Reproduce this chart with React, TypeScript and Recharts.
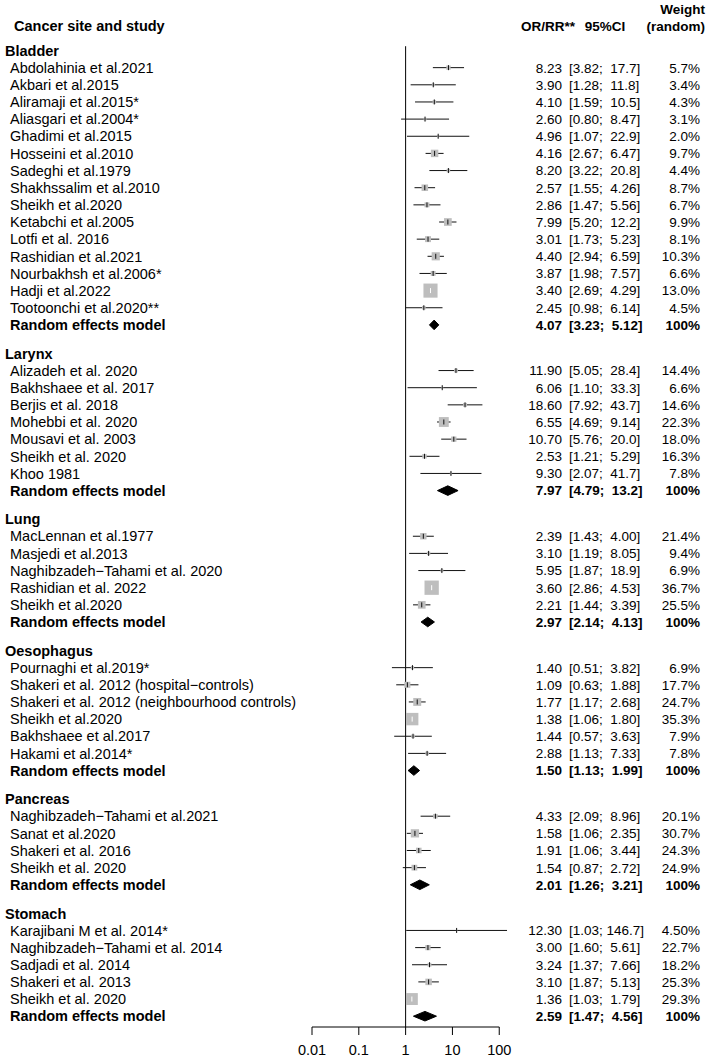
import React from 'react';
import { ComposedChart, Scatter, Area, XAxis, YAxis, ErrorBar, ReferenceLine } from 'recharts';

const FONT = '"Liberation Sans", Arial, Helvetica, sans-serif';
const FS = 14.5;
const FS_R = 13.5;

// ---------------- data ----------------
const columnHeaders = ['Cancer site and study', 'OR/RR**', '95%CI', 'Weight', '(random)'];
const groupNames = ['Bladder', 'Larynx', 'Lung', 'Oesophagus', 'Pancreas', 'Stomach'];
const groupSizes = [15, 7, 5, 6, 4, 5];

const studyNames = [
  'Abdolahinia et al.2021', 'Akbari et al.2015', 'Aliramaji et al.2015*', 'Aliasgari et al.2004*',
  'Ghadimi et al.2015', 'Hosseini et al.2010', 'Sadeghi et al.1979', 'Shakhssalim et al.2010',
  'Sheikh et al.2020', 'Ketabchi et al.2005', 'Lotfi et al. 2016', 'Rashidian et al.2021',
  'Nourbakhsh et al.2006*', 'Hadji et al.2022', 'Tootoonchi et al.2020**',
  'Alizadeh et al. 2020', 'Bakhshaee et al. 2017', 'Berjis et al. 2018', 'Mohebbi et al. 2020',
  'Mousavi et al. 2003', 'Sheikh et al. 2020', 'Khoo 1981',
  'MacLennan et al.1977', 'Masjedi et al.2013', 'Naghibzadeh\u2212Tahami et al. 2020',
  'Rashidian et al. 2022', 'Sheikh et al.2020',
  'Pournaghi et al.2019*', 'Shakeri et al. 2012 (hospital\u2212controls)',
  'Shakeri et al. 2012 (neighbourhood controls)', 'Sheikh et al.2020', 'Bakhshaee et al.2017',
  'Hakami et al.2014*',
  'Naghibzadeh\u2212Tahami et al.2021', 'Sanat et al.2020', 'Shakeri et al. 2016', 'Sheikh et al. 2020',
  'Karajibani M et al. 2014*', 'Naghibzadeh\u2212Tahami et al. 2014', 'Sadjadi et al. 2014',
  'Shakeri et al. 2013', 'Sheikh et al. 2020',
];
const studyOR = [
  '8.23', '3.90', '4.10', '2.60', '4.96', '4.16', '8.20', '2.57', '2.86', '7.99', '3.01', '4.40', '3.87', '3.40', '2.45',
  '11.90', '6.06', '18.60', '6.55', '10.70', '2.53', '9.30',
  '2.39', '3.10', '5.95', '3.60', '2.21',
  '1.40', '1.09', '1.77', '1.38', '1.44', '2.88',
  '4.33', '1.58', '1.91', '1.54',
  '12.30', '3.00', '3.24', '3.10', '1.36',
];
const studyLower = [
  '3.82', '1.28', '1.59', '0.80', '1.07', '2.67', '3.22', '1.55', '1.47', '5.20', '1.73', '2.94', '1.98', '2.69', '0.98',
  '5.05', '1.10', '7.92', '4.69', '5.76', '1.21', '2.07',
  '1.43', '1.19', '1.87', '2.86', '1.44',
  '0.51', '0.63', '1.17', '1.06', '0.57', '1.13',
  '2.09', '1.06', '1.06', '0.87',
  '1.03', '1.60', '1.37', '1.87', '1.03',
];
const studyUpper = [
  '17.7', '11.8', '10.5', '8.47', '22.9', '6.47', '20.8', '4.26', '5.56', '12.2', '5.23', '6.59', '7.57', '4.29', '6.14',
  '28.4', '33.3', '43.7', '9.14', '20.0', '5.29', '41.7',
  '4.00', '8.05', '18.9', '4.53', '3.39',
  '3.82', '1.88', '2.68', '1.80', '3.63', '7.33',
  '8.96', '2.35', '3.44', '2.72',
  '146.7', '5.61', '7.66', '5.13', '1.79',
];
const studyWeight = [
  '5.7%', '3.4%', '4.3%', '3.1%', '2.0%', '9.7%', '4.4%', '8.7%', '6.7%', '9.9%', '8.1%', '10.3%', '6.6%', '13.0%', '4.5%',
  '14.4%', '6.6%', '14.6%', '22.3%', '18.0%', '16.3%', '7.8%',
  '21.4%', '9.4%', '6.9%', '36.7%', '25.5%',
  '6.9%', '17.7%', '24.7%', '35.3%', '7.9%', '7.8%',
  '20.1%', '30.7%', '24.3%', '24.9%',
  '4.50%', '22.7%', '18.2%', '25.3%', '29.3%',
];
const pooledLabel = 'Random effects model';
const pooledOR = ['4.07', '7.97', '2.97', '1.50', '2.01', '2.59'];
const pooledLower = ['3.23', '4.79', '2.14', '1.13', '1.26', '1.47'];
const pooledUpper = ['5.12', '13.2', '4.13', '1.99', '3.21', '4.56'];
const pooledWeight = '100%';
const xTickLabels = ['0.01', '0.1', '1', '10', '100'];

// ---------------- layout ----------------
const HEADER_GAP = 1.662;
const P_TOP = -2.945;
const P_BOTTOM = 56.94;
const COLHEAD_P = -1.429;
const VLINE_TOP_P = -0.25;
const DIAMOND_HALF = 0.28;
const BOX_SCALE = 6.58;
const INSIDE_LIMIT = 0.569;
const X_MIN = -2;
const X_MAX = 2.2;
const PLOT_LEFT = 312;
const PLOT_RIGHT = 508.6;

const NAME_X = 10;
const GROUP_X = 5;
const COLHEAD_X = 14;
const OR_RIGHT = 562;
const CI_LEFT = 569;
const W_RIGHT = 700;

type Line = {
  kind: 'colhead' | 'group' | 'study' | 'pooled';
  p: number;
  label: string;
  or?: string;
  lo?: string;
  hi?: string;
  w?: string;
};

const lines: Line[] = [];
const studyPoints: any[] = [];
const diamonds: any[][] = [];

lines.push({ kind: 'colhead', p: COLHEAD_P, label: columnHeaders[0] });
let pos = 0;
let k = 0;
groupNames.forEach((g, gi) => {
  if (gi > 0) pos += HEADER_GAP;
  lines.push({ kind: 'group', p: pos, label: g });
  for (let j = 0; j < groupSizes[gi]; j++) {
    pos += 1;
    const or = parseFloat(studyOR[k]);
    const lo = parseFloat(studyLower[k]);
    const hi = parseFloat(studyUpper[k]);
    const x = Math.log10(or);
    const lnw = Math.log(hi / lo);
    studyPoints.push({
      x,
      y: pos,
      err: [x - Math.log10(lo), Math.log10(hi) - x],
      box: BOX_SCALE / lnw,
      inside: lnw < INSIDE_LIMIT,
    });
    lines.push({ kind: 'study', p: pos, label: studyNames[k], or: studyOR[k], lo: studyLower[k], hi: studyUpper[k], w: studyWeight[k] });
    k++;
  }
  pos += 1;
  const por = Math.log10(parseFloat(pooledOR[gi]));
  const plo = Math.log10(parseFloat(pooledLower[gi]));
  const phi = Math.log10(parseFloat(pooledUpper[gi]));
  diamonds.push([
    { x: plo, d: [pos, pos] },
    { x: por, d: [pos - DIAMOND_HALF, pos + DIAMOND_HALF] },
    { x: phi, d: [pos, pos] },
  ]);
  lines.push({ kind: 'pooled', p: pos, label: pooledLabel, or: pooledOR[gi], lo: pooledLower[gi], hi: pooledUpper[gi], w: pooledWeight });
});

const maxHiLen = Math.max(...studyUpper.map((s) => s.length), ...pooledUpper.map((s) => s.length));
const ciText = (lo: string, hi: string) => `[${lo};${' '.repeat(1 + maxHiLen - hi.length)}${hi}]`;

const blackPts = studyPoints.filter((d) => !d.inside);
const whitePts = studyPoints.filter((d) => d.inside);
const yTicks = lines.map((l) => l.p);
const xTicks = xTickLabels.map((s) => Math.log10(parseFloat(s)));

const txt = (x: number, y: number, s: string, anchor: string, bold: boolean, key: string, size: number) => (
  <text
    key={key}
    x={x}
    y={y}
    dy="0.36em"
    textAnchor={anchor as any}
    fontFamily={FONT}
    fontSize={size}
    fontWeight={bold ? 'bold' : 'normal'}
    fill="#000"
    xmlSpace="preserve"
    style={{ whiteSpace: 'pre' }}
  >
    {s}
  </text>
);

const renderYTick = (props: any) => {
  const { y, index, payload } = props;
  let line: Line | undefined = typeof index === 'number' ? lines[index] : undefined;
  if (!line || (payload && Math.abs(line.p - payload.value) > 1e-6)) {
    line = lines.find((l) => payload && Math.abs(l.p - payload.value) < 1e-6);
  }
  if (!line) return <g />;
  if (line.kind === 'colhead') {
    return (
      <g>
        {txt(COLHEAD_X, y, columnHeaders[0], 'start', true, 'a', FS)}
        {txt(575, y, columnHeaders[1], 'end', true, 'b', FS_R)}
        {txt(605, y, columnHeaders[2], 'middle', true, 'c', FS_R)}
        {txt(705, y - 17, columnHeaders[3], 'end', true, 'd', FS_R)}
        {txt(705, y, columnHeaders[4], 'end', true, 'e', FS_R)}
      </g>
    );
  }
  if (line.kind === 'group') {
    return <g>{txt(GROUP_X, y, line.label, 'start', true, 'g', FS)}</g>;
  }
  const bold = line.kind === 'pooled';
  return (
    <g>
      {txt(NAME_X, y, line.label, 'start', bold, 'n', FS)}
      {txt(OR_RIGHT, y, line.or as string, 'end', bold, 'o', FS_R)}
      {txt(CI_LEFT, y, ciText(line.lo as string, line.hi as string), 'start', bold, 'c', FS_R)}
      {txt(W_RIGHT, y, line.w as string, 'end', bold, 'w', FS_R)}
    </g>
  );
};

const getBox = (props: any) => (props.payload && props.payload.box) || props.box || 0;

const renderBox = (props: any) => {
  const s = getBox(props);
  return <rect x={props.cx - s / 2} y={props.cy - s / 2} width={s} height={s} fill="#BEBEBE" />;
};

const makeTick = (color: string) => (props: any) => (
  <line x1={props.cx} x2={props.cx} y1={props.cy - 2.5} y2={props.cy + 2.5} stroke={color} strokeWidth={1} />
);
const renderTickBlack = makeTick('#111');
const renderTickWhite = makeTick('#ffffff');

const errKey = (d: any) => (d && d.payload && d.payload.err ? d.payload.err : d.err);

export default function App() {
  return (
    <div style={{ position: 'absolute', left: 0, top: 0, width: 709, height: 1061, background: '#fff' }}>
      <ComposedChart
        width={709}
        height={1061}
        margin={{ top: 0, right: 709 - PLOT_RIGHT, bottom: 0, left: 0 }}
      >
        <XAxis
          type="number"
          dataKey="x"
          domain={[X_MIN, X_MAX]}
          allowDataOverflow
          ticks={xTicks}
          interval={0}
          tickFormatter={(v: number, i: number) => xTickLabels[i] ?? String(Math.pow(10, v))}
          axisLine={false}
          tickSize={8}
          tickMargin={10}
          stroke="#000"
          tick={{ fill: '#000', fontSize: FS, fontFamily: FONT }}
          height={34}
        />
        <YAxis
          type="number"
          dataKey="y"
          domain={[P_TOP, P_BOTTOM]}
          reversed
          allowDataOverflow
          ticks={yTicks}
          interval={0}
          tick={renderYTick}
          axisLine={false}
          tickLine={false}
          width={PLOT_LEFT}
        />
        <ReferenceLine segment={[{ x: 0, y: VLINE_TOP_P }, { x: 0, y: P_BOTTOM }]} stroke="#000" strokeWidth={1} />
        <ReferenceLine segment={[{ x: X_MIN, y: P_BOTTOM }, { x: 2, y: P_BOTTOM }]} stroke="#000" strokeWidth={1} />
        <Scatter data={studyPoints} shape={renderBox} isAnimationActive={false} />
        <Scatter data={blackPts} shape={renderTickBlack} isAnimationActive={false}>
          <ErrorBar dataKey={errKey as any} direction="x" width={0} stroke="#111" strokeWidth={1} />
        </Scatter>
        <Scatter data={whitePts} shape={renderTickWhite} isAnimationActive={false}>
          <ErrorBar dataKey={errKey as any} direction="x" width={0} stroke="#ffffff" strokeWidth={1} />
        </Scatter>
        {diamonds.map((d, i) => (
          <Area
            key={`dm${i}`}
            data={d}
            dataKey="d"
            type="linear"
            stroke="#000"
            strokeWidth={1}
            fill="#000"
            fillOpacity={1}
            dot={false}
            activeDot={false}
            isAnimationActive={false}
          />
        ))}
      </ComposedChart>
    </div>
  );
}
